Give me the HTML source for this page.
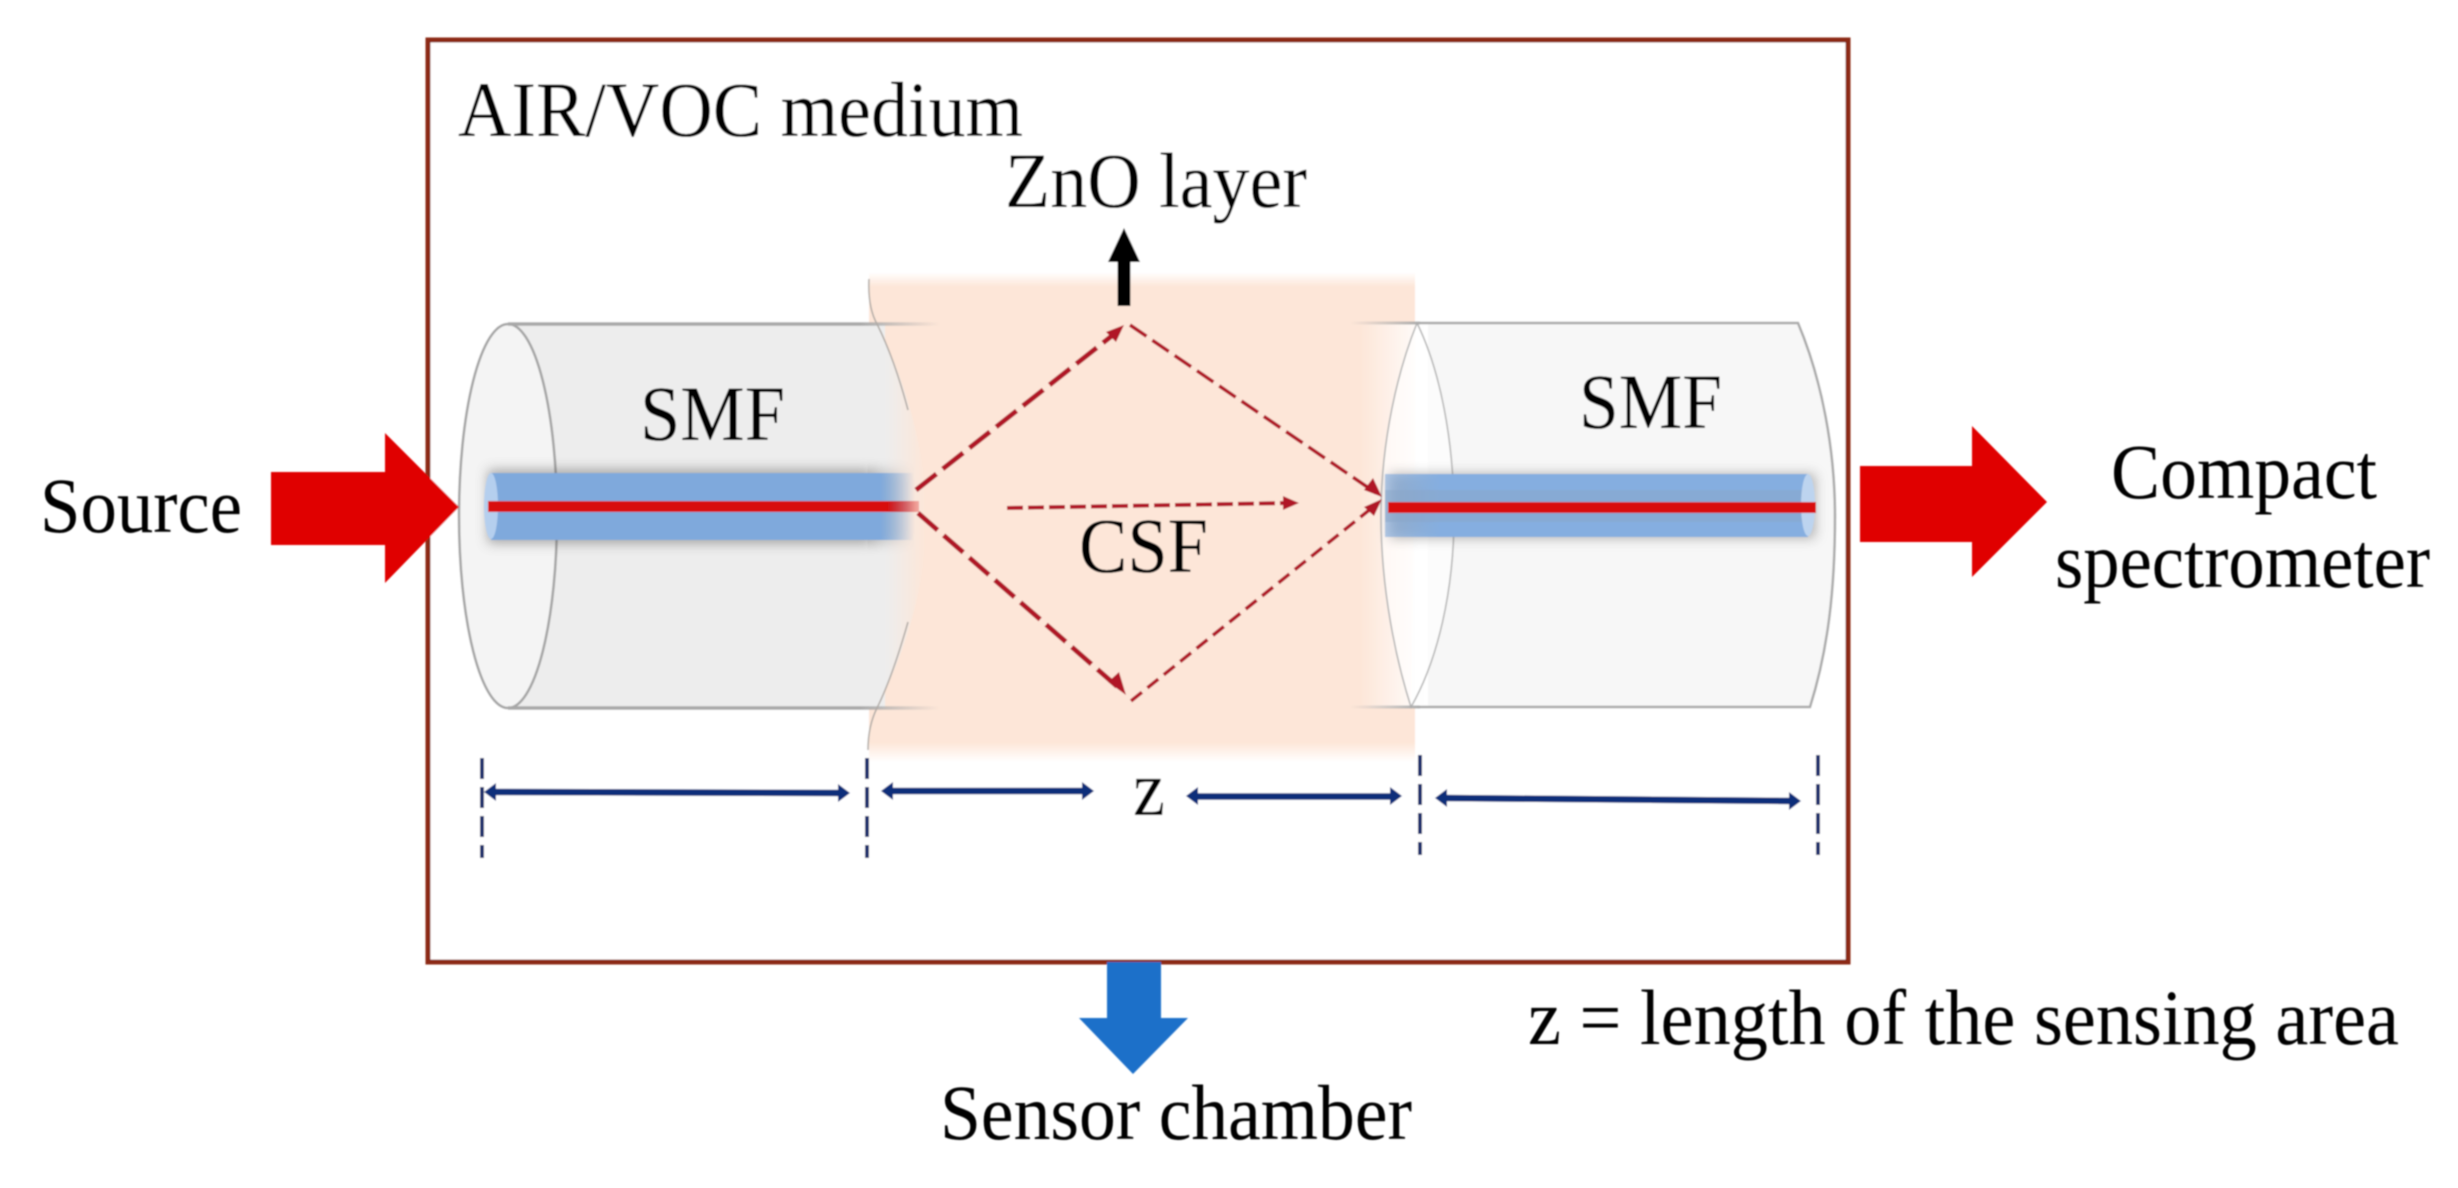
<!DOCTYPE html>
<html><head><meta charset="utf-8">
<style>
html,body{margin:0;padding:0;background:#fff;width:2458px;height:1188px;overflow:hidden}
svg{display:block}
text{font-family:"Liberation Serif",serif;font-size:78px;fill:#000}
</style></head>
<body>
<svg width="2458" height="1188" viewBox="0 0 2458 1188" xmlns="http://www.w3.org/2000/svg">
<defs>
<filter id="b" x="-5%" y="-5%" width="110%" height="110%"><feGaussianBlur stdDeviation="0.9"/></filter>
<filter id="sh" x="-5%" y="-40%" width="110%" height="180%"><feGaussianBlur stdDeviation="6"/></filter>
<linearGradient id="og" gradientUnits="userSpaceOnUse" x1="0" y1="272" x2="0" y2="762">
<stop offset="0" stop-color="#fde6d8" stop-opacity="0"/><stop offset=".03" stop-color="#fde6d8"/><stop offset=".96" stop-color="#fde6d8"/><stop offset="1" stop-color="#fde6d8" stop-opacity="0"/></linearGradient>
<linearGradient id="gl" gradientUnits="userSpaceOnUse" x1="885" y1="0" x2="926" y2="0">
<stop offset="0" stop-color="#ededed"/><stop offset="1" stop-color="#ededed" stop-opacity="0"/></linearGradient>
<linearGradient id="gr" gradientUnits="userSpaceOnUse" x1="1360" y1="0" x2="1428" y2="0">
<stop offset="0" stop-color="#fff" stop-opacity="0"/><stop offset="1" stop-color="#fff"/></linearGradient>
<linearGradient id="tl" gradientUnits="userSpaceOnUse" x1="860" y1="0" x2="940" y2="0">
<stop offset="0" stop-color="#a8a8a8"/><stop offset="1" stop-color="#a8a8a8" stop-opacity="0"/></linearGradient>
<linearGradient id="tr" gradientUnits="userSpaceOnUse" x1="1350" y1="0" x2="1420" y2="0">
<stop offset="0" stop-color="#aaa" stop-opacity="0"/><stop offset="1" stop-color="#aaa"/></linearGradient>
<linearGradient id="cl" gradientUnits="userSpaceOnUse" x1="880" y1="0" x2="914" y2="0">
<stop offset="0" stop-color="#7fa9dc"/><stop offset="1" stop-color="#7fa9dc" stop-opacity="0"/></linearGradient>
<linearGradient id="rl" gradientUnits="userSpaceOnUse" x1="885" y1="0" x2="918" y2="0">
<stop offset="0" stop-color="#d80808"/><stop offset="1" stop-color="#d80808" stop-opacity="0.3"/></linearGradient>
<linearGradient id="sf" gradientUnits="userSpaceOnUse" x1="870" y1="0" x2="912" y2="0">
<stop offset="0" stop-color="#555"/><stop offset="1" stop-color="#555" stop-opacity="0"/></linearGradient>
<linearGradient id="cr" gradientUnits="userSpaceOnUse" x1="1385" y1="0" x2="1440" y2="0">
<stop offset="0" stop-color="#7fa9dc" stop-opacity="0.6"/><stop offset="1" stop-color="#85aee0"/></linearGradient>
</defs>
<g filter="url(#b)">
<rect x="428" y="40" width="1420" height="922" fill="#fff" stroke="#8c2a12" stroke-width="5"/>
<!-- orange layer -->
<rect x="869" y="272" width="546" height="490" fill="url(#og)"/>
<!-- left cylinder -->
<path d="M508 324 L877 324 C905 380 926 450 926 516 C926 590 905 650 877 708 L508 708 Z" fill="url(#gl)"/>
<rect x="508" y="324" width="377" height="384" fill="#ededed"/>
<ellipse cx="508" cy="516" rx="49" ry="192" fill="#f4f4f4" stroke="#a5a5a5" stroke-width="2.5"/>
<path d="M508 324 H860 M508 708 H860" stroke="#a8a8a8" stroke-width="3.5" fill="none"/>
<path d="M860 324 H940 M860 708 H940" stroke="url(#tl)" stroke-width="3.5" fill="none"/>
<path d="M869 279 C868 300 872 315 877 324 C890 350 900 380 908 410" stroke="#b0aaa5" stroke-width="1.5" fill="none"/>
<path d="M908 622 C900 650 890 682 877 708 C871 720 868 735 868 750" stroke="#b0aaa5" stroke-width="1.5" fill="none"/>
<!-- right cylinder -->
<path d="M1417 323 L1798 323 C1822 380 1835 450 1835 516 C1835 590 1828 650 1810 707 L1411 707 Z" fill="#f7f7f7"/>
<rect x="1360" y="324" width="68" height="384" fill="url(#gr)"/>
<path d="M1417 323 C1440 370 1454 440 1454 516 C1454 590 1438 660 1411 707 C1396 660 1381 590 1381 516 C1381 440 1398 370 1417 323 Z" fill="#fff" fill-opacity=".6" stroke="#b4b4b4" stroke-width="1.5"/>
<path d="M1350 323 H1420 M1350 707 H1420" stroke="url(#tr)" stroke-width="3" fill="none"/>
<path d="M1420 323 H1798 C1822 380 1835 450 1835 516 C1835 590 1828 650 1810 707 H1420" stroke="#aaa" stroke-width="2.5" fill="none"/>
<!-- left core -->
<rect x="488" y="470" width="384" height="73" fill="#555" opacity=".5" filter="url(#sh)"/>
<rect x="870" y="470" width="42" height="73" fill="url(#sf)" opacity=".4" filter="url(#sh)"/>
<rect x="491" y="473" width="390" height="67" fill="#7fa9dc"/>
<rect x="880" y="473" width="34" height="67" fill="url(#cl)"/>
<ellipse cx="491" cy="506" rx="7" ry="33" fill="#b5cfee"/>
<rect x="488" y="501" width="400" height="11" fill="#d80808"/>
<rect x="885" y="501" width="34" height="11" fill="url(#rl)"/>
<!-- right core -->
<rect x="1390" y="474" width="425" height="64" fill="#555" opacity=".45" filter="url(#sh)"/>
<rect x="1385" y="474" width="423" height="63" fill="url(#cr)"/>
<rect x="1385" y="490" width="423" height="32" fill="#8aa5c8" fill-opacity=".5"/>
<ellipse cx="1808" cy="505" rx="7" ry="31" fill="#bdd4ef"/>
<rect x="1388" y="502" width="428" height="11" fill="#d80808"/>
<!-- dashed rays -->
<g fill="none" stroke="#b01226" stroke-linecap="butt">
<path d="M916 490 L1118 331" stroke-width="5" stroke-dasharray="26 8"/>
<path d="M1130 325 L1376 493" stroke-width="3.6" stroke-dasharray="20 7"/>
<path d="M918 513 L1120 689" stroke-width="5" stroke-dasharray="26 8"/>
<path d="M1131 701 L1378 503" stroke-width="3.6" stroke-dasharray="14 7"/>
<path d="M1007 508 L1290 503" stroke-width="4" stroke-dasharray="16 5"/>
</g>
<g fill="#b01226">
<polygon points="1124,325 1116,342 1106,332"/>
<polygon points="1126,695 1108,682 1119,672"/>
<polygon points="1382,497 1364,490 1373,478"/>
<polygon points="1382,499 1374,516 1364,507"/>
<polygon points="1299,503 1283,510 1283,496"/>
</g>
<!-- black arrow -->
<path d="M1124 228 L1140 262 L1130.500 262 L1130.500 306 L1117.500 306 L1117.500 262 L1108 262 Z" fill="#000"/>
<!-- dimension verticals -->
<g stroke="#1a2f6b" stroke-width="4" fill="none" stroke-dasharray="21 8">
<path d="M482 758 V858"/><path d="M867 758 V858"/><path d="M1420 755 V855"/><path d="M1818 755 V855"/>
</g>
<!-- dimension arrows -->
<g stroke="#0b2f7a" stroke-width="6.500" fill="none">
<path d="M490 792 L844 793"/><path d="M887 791 L1088 791"/><path d="M1192 796.500 L1396 796.500"/><path d="M1442 798 L1795 801"/>
</g>
<g fill="#0b2f7a">
<polygon points="484,792 496,783 496,801"/><polygon points="850,793 838,784 838,802"/>
<polygon points="881,791 893,782 893,800"/><polygon points="1094,791 1082,782 1082,800"/>
<polygon points="1186,796 1198,787 1198,805"/><polygon points="1402,796 1390,787 1390,805"/>
<polygon points="1435,798 1447,789 1447,807"/><polygon points="1801,801 1789,792 1789,810"/>
</g>
<!-- block arrows -->
<polygon points="271,472 385,472 385,433 459,507 385,583 385,545 271,545" fill="#e00000"/>
<polygon points="1860,466 1972,466 1972,426 2047,502 1972,577 1972,542 1860,542" fill="#e00000"/>
<polygon points="1107,962 1161,962 1161,1018 1188,1018 1133,1074 1079,1018 1107,1018" fill="#1a6fc9"/>
<!-- labels -->
<text x="458" y="136" textLength="565" lengthAdjust="spacingAndGlyphs">AIR/VOC medium</text>
<text x="1005" y="207" textLength="302" lengthAdjust="spacingAndGlyphs">ZnO layer</text>
<text x="640" y="440" textLength="145" lengthAdjust="spacingAndGlyphs">SMF</text>
<text x="1079" y="572" textLength="129" lengthAdjust="spacingAndGlyphs">CSF</text>
<text x="1579" y="428" textLength="143" lengthAdjust="spacingAndGlyphs">SMF</text>
<text x="40" y="532" textLength="202" lengthAdjust="spacingAndGlyphs">Source</text>
<text x="2111" y="498" textLength="266" lengthAdjust="spacingAndGlyphs">Compact</text>
<text x="2055" y="587" textLength="375" lengthAdjust="spacingAndGlyphs">spectrometer</text>
<text x="1133" y="815" textLength="32" lengthAdjust="spacingAndGlyphs">z</text>
<text x="940" y="1139" textLength="472" lengthAdjust="spacingAndGlyphs">Sensor chamber</text>
<text x="1528" y="1044" textLength="871" lengthAdjust="spacingAndGlyphs">z = length of the sensing area</text>
</g>
</svg>
</body></html>
